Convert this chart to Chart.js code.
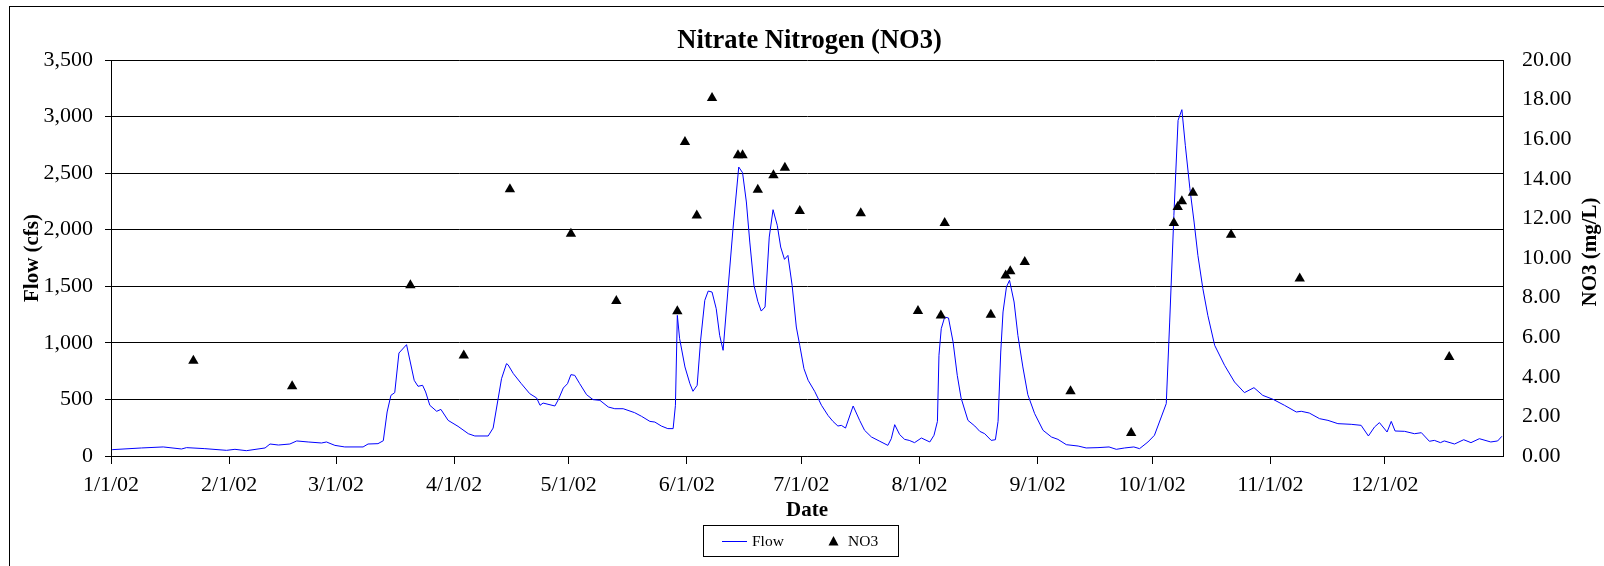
<!DOCTYPE html>
<html>
<head>
<meta charset="utf-8">
<title>Nitrate Nitrogen (NO3)</title>
<script src="https://cdn.jsdelivr.net/npm/chart.js@4.4.1/dist/chart.umd.min.js"></script>
<style>
  html, body { margin: 0; padding: 0; background: #fff; }
  #wrap { width: 1604px; height: 566px; }
</style>
</head>
<body>
<div id="wrap"><canvas id="no3Chart" width="1604" height="566"></canvas></div>
<script>
// days counted from 1/1/02
const monthTickDays = [0, 31, 59, 90, 120, 151, 181, 212, 243, 273, 304, 334];
const monthTickLabels = ['1/1/02', '2/1/02', '3/1/02', '4/1/02', '5/1/02', '6/1/02',
  '7/1/02', '8/1/02', '9/1/02', '10/1/02', '11/1/02', '12/1/02'];

// Flow (cfs)
const flowDays = [0.3, 8.0, 13.7, 18.5, 19.8, 24.6, 30.3, 32.5, 35.5, 40.4, 41.7, 43.9, 46.9, 48.7,
  51.7, 55.2, 56.5, 58.7, 61.3, 66.1, 67.4, 70.0, 71.4, 72.4, 73.4, 74.4, 75.5, 77.5, 79.5, 80.5,
  81.7, 82.5, 83.6, 85.4, 86.5, 88.4, 91.0, 93.7, 95.4, 98.9, 100.2, 102.4, 103.7, 104.1, 105.5,
  107.6, 109.8, 111.6, 112.5, 113.3, 116.4, 117.3, 118.6, 119.7, 120.6, 121.6, 122.9, 124.7, 126.4,
  128.2, 130.4, 132.1, 134.3, 137.3, 139.1, 141.3, 142.6, 144.3, 146.0, 147.4, 148.0, 148.5, 149.1,
  150.5, 151.8, 152.6, 153.7, 154.6, 155.7, 156.6, 157.6, 158.7, 159.6, 160.5, 161.8, 163.1, 164.6,
  165.6, 166.6, 167.5, 168.6, 169.6, 170.5, 171.5, 172.6, 173.6, 174.7, 175.6, 176.6, 177.5, 178.6,
  179.7, 180.6, 181.7, 182.8, 184.5, 186.3, 188.0, 189.3, 190.6, 191.5, 192.6, 194.6, 196.3, 197.6,
  199.4, 201.6, 203.7, 204.6, 205.5, 206.8, 208.1, 209.3, 210.7, 212.5, 214.7, 215.8, 216.7, 217.1,
  217.7, 218.6, 219.6, 220.8, 221.9, 222.9, 224.7, 226.5, 227.8, 229.1, 230.8, 231.9, 232.6, 233.3,
  233.9, 234.8, 235.6, 236.8, 237.8, 239.1, 240.4, 242.2, 244.4, 246.6, 248.3, 250.5, 253.6, 255.7,
  258.8, 261.7, 263.6, 265.8, 268.2, 269.7, 271.9, 273.6, 275.4, 276.7, 277.6, 278.7, 279.8, 280.8,
  281.7, 282.9, 284.0, 285.0, 286.3, 287.6, 289.4, 292.0, 294.6, 297.2, 299.7, 302.0, 304.7, 307.7,
  310.8, 312.1, 314.2, 316.9, 319.1, 321.7, 325.2, 327.8, 329.7, 331.3, 332.6, 334.6, 335.7, 336.7,
  339.2, 341.8, 343.6, 345.7, 347.0, 348.6, 349.6, 352.3, 354.7, 356.6, 358.8, 361.8, 363.6, 364.7];
const flowValues = [56, 71, 80, 62, 74, 65, 50, 59, 47, 71, 106, 97, 106, 133,
  124, 115, 124, 94, 80, 80, 106, 109, 135, 389, 536, 560, 910, 984, 669, 616,
  625, 566, 448, 395, 412, 315, 262, 197, 177, 177, 247, 683, 816, 807, 728,
  639, 551, 513, 448, 468, 442, 498, 601, 639, 719, 713, 639, 542, 498,
  492, 433, 418, 418, 383, 351, 306, 300, 265, 242, 242, 448, 1243, 1037,
  787, 639, 572, 625, 1022, 1376, 1458, 1449, 1302, 1066, 934, 1479, 2009, 2554,
  2504, 2245, 1891, 1508, 1367, 1281, 1317, 1935, 2177, 2039, 1847, 1738, 1773, 1508,
  1140, 978, 772, 669, 572, 448, 359, 306, 265, 271, 247, 442, 315, 227,
  168, 130, 94, 153, 277, 189, 147, 138, 118, 159, 124, 183, 306, 890,
  1125, 1228, 1220, 1008, 713, 513, 315, 265, 218, 197, 138, 144, 306, 919,
  1273, 1494, 1553, 1361, 1066, 787, 542, 374, 227, 168, 147, 100, 88, 71,
  74, 80, 59, 71, 80, 65, 124, 183, 345, 463, 1184, 2127, 2967, 3061,
  2746, 2363, 2068, 1773, 1479, 1243, 978, 801, 654, 560, 604, 536, 501, 448,
  389, 395, 380, 330, 315, 286, 280, 271, 177, 256, 295, 212, 306, 221,
  218, 197, 206, 130, 138, 118, 133, 106, 144, 118, 153, 124, 133, 174];

// NO3 samples (mg/L)
const no3Days = [21.6, 47.5, 78.5, 92.5, 104.6, 120.6, 132.5, 148.5, 150.5, 153.6, 157.6, 164.4,
  165.6, 169.6, 173.7, 176.7, 180.6, 196.6, 211.6, 217.6, 218.6, 230.7, 234.6, 235.8, 239.6, 251.6,
  267.5, 278.7, 279.7, 280.8, 283.7, 293.7, 311.7, 350.9];
const no3Values = [4.81, 3.52, 8.62, 5.08, 13.47, 11.23, 7.83, 7.31, 15.86, 12.15, 18.08, 15.19,
  15.19, 13.45, 14.18, 14.56, 12.37, 12.26, 7.32, 7.10, 11.77, 7.14, 9.12, 9.33, 9.80, 3.27,
  1.16, 11.77, 12.58, 12.86, 13.30, 11.18, 8.96, 5.00];

const serif = '"Liberation Serif", "Times New Roman", serif';
const tickFont = { family: serif, size: 22 };
const axisTitleFont = { family: serif, size: 21, weight: 'bold' };

// titulo, titulo do eixo direito (lido de baixo p/ cima), legenda com caixa e moldura
const chartDecor = {
  id: 'chartDecor',
  afterDraw(chart) {
    const ctx = chart.ctx;
    ctx.save();
    ctx.fillStyle = '#000';
    ctx.font = 'bold 26.5px ' + serif;
    ctx.textAlign = 'center';
    ctx.textBaseline = 'alphabetic';
    ctx.fillText('Nitrate Nitrogen (NO3)', 809.5, 48);

    ctx.save();
    ctx.translate(1590.5, 252);
    ctx.rotate(-Math.PI / 2);
    ctx.font = 'bold 21px ' + serif;
    ctx.textBaseline = 'middle';
    ctx.fillText('NO3 (mg/L)', 0, 0);
    ctx.restore();

    // legenda
    const flowSet = chart.data.datasets[0];
    const no3Set = chart.data.datasets[1];
    ctx.strokeStyle = '#000';
    ctx.lineWidth = 1;
    ctx.strokeRect(703.5, 525.5, 195, 31);
    ctx.strokeStyle = flowSet.borderColor;
    ctx.beginPath();
    ctx.moveTo(722, 541.5);
    ctx.lineTo(747, 541.5);
    ctx.stroke();
    ctx.font = '15.5px ' + serif;
    ctx.textAlign = 'left';
    ctx.textBaseline = 'middle';
    ctx.fillStyle = '#000';
    ctx.fillText(flowSet.label, 752, 542);
    ctx.fillStyle = no3Set.backgroundColor;
    ctx.beginPath();
    ctx.moveTo(833.5, 536);
    ctx.lineTo(838.5, 545.5);
    ctx.lineTo(828.5, 545.5);
    ctx.closePath();
    ctx.fill();
    ctx.fillStyle = '#000';
    ctx.fillText(no3Set.label, 848, 542);

    // moldura do grafico
    ctx.strokeStyle = '#000';
    ctx.strokeRect(9.5, 6.5, 1700, 700);
    ctx.restore();
  }
};

const ctx = document.getElementById('no3Chart').getContext('2d');
new Chart(ctx, {
  type: 'scatter',
  data: {
    datasets: [{
      label: 'Flow',
      data: flowDays.map((d, i) => ({ x: d, y: flowValues[i] })),
      showLine: true,
      borderColor: '#0000ff',
      borderWidth: 1,
      pointRadius: 0,
      tension: 0,
      yAxisID: 'y',
      order: 2
    }, {
      label: 'NO3',
      data: no3Days.map((d, i) => ({ x: d, y: no3Values[i] })),
      showLine: false,
      pointStyle: 'triangle',
      pointRadius: 6,
      backgroundColor: '#000',
      borderColor: '#000',
      borderWidth: 0,
      yAxisID: 'y1',
      order: 1
    }]
  },
  options: {
    responsive: false,
    animation: false,
    layout: { padding: { top: 60, left: 0, right: 0, bottom: 0 } },
    plugins: {
      legend: { display: false },
      title: { display: false },
      tooltip: { enabled: false }
    },
    scales: {
      x: {
        type: 'linear',
        min: 0,
        max: 365,
        afterBuildTicks: scale => { scale.ticks = monthTickDays.map(v => ({ value: v })); },
        afterFit: scale => { scale.height = 110; },
        ticks: {
          callback: v => monthTickLabels[monthTickDays.indexOf(v)],
          font: tickFont,
          color: '#000',
          padding: 8,
          maxRotation: 0,
          autoSkip: false
        },
        grid: { drawOnChartArea: false, tickLength: 8, color: '#000' },
        border: { color: '#000' },
        title: { display: true, text: 'Date', font: axisTitleFont, color: '#000', padding: { top: 0, bottom: 43 } }
      },
      y: {
        position: 'left',
        min: 0,
        max: 3500,
        afterFit: scale => { scale.width = 111; },
        ticks: {
          stepSize: 500,
          callback: v => v.toLocaleString('en-US'),
          font: tickFont,
          color: '#000',
          padding: 12
        },
        grid: { color: '#000', tickLength: 6 },
        border: { color: '#000' },
        title: { display: true, text: 'Flow (cfs)', font: axisTitleFont, color: '#000', padding: { top: 20, bottom: 0 } }
      },
      y1: {
        position: 'right',
        min: 0,
        max: 20,
        afterFit: scale => { scale.width = 101; },
        ticks: {
          stepSize: 2,
          callback: v => v.toFixed(2),
          font: tickFont,
          color: '#000',
          padding: 19
        },
        grid: { drawOnChartArea: false, drawTicks: false },
        border: { color: '#000' }
      }
    }
  },
  plugins: [chartDecor]
});
</script>
</body>
</html>
